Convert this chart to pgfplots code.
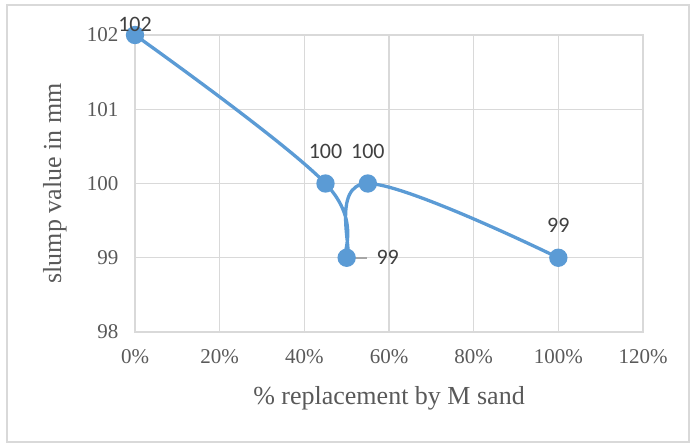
\documentclass[border=0pt]{standalone}
\usepackage{fontspec}
\setmainfont{Liberation Serif}
\newfontfamily\calibri{Carlito}
\usepackage{pgfplots}
\pgfplotsset{compat=1.18}
\definecolor{txt}{HTML}{595959}
\definecolor{dlab}{HTML}{404040}
\definecolor{gridc}{HTML}{D9D9D9}
\definecolor{leader}{HTML}{A6A6A6}
\definecolor{serc}{HTML}{5B9BD5}
\begin{document}
\begin{tikzpicture}[x=1pt,y=1pt]
\path[use as bounding box] (-135,-113) rectangle (559,332);
\draw[gridc, line width=1.2pt] (-128,-110) rectangle (554,327);
\begin{axis}[
  at={(0,0)}, anchor=south west,
  scale only axis, width=508pt, height=297pt,
  xmin=0, xmax=120, ymin=98, ymax=102,
  xtick={0,20,...,120}, ytick={98,99,...,102},
  grid=major, major grid style={gridc, line width=1.2pt},
  axis line style={gridc, line width=1.2pt},
  major tick length=0pt,
  clip=false,
  /pgf/number format/assume math mode=true,
  xticklabel={\pgfmathprintnumber{\tick}\%},
  tick label style={txt, font=\fontsize{21}{21}\selectfont},
  xticklabel style={yshift=-14pt},
  yticklabel style={xshift=-13pt},
  label style={txt, font=\fontsize{26}{26}\selectfont},
  xlabel={\% replacement by M sand},
  ylabel={slump value in mm},
  xlabel style={at={(axis description cs:0.5,-0.222)}, anchor=center},
  ylabel style={at={(axis description cs:-0.1575,0.5)}, anchor=center},
]
\addplot[serc, line width=3.3pt, smooth, tension=0.66, mark=*, mark size=7.5pt,
  mark options={fill=serc, draw=none}]
  coordinates {(0,102) (45,100) (50,99) (55,100) (100,99)};
\addplot[leader, line width=1.5pt] coordinates {(50,99) (54.7,99)};
\addplot[draw=none, nodes near coords,
  every node near coord/.append style={anchor=center, yshift=32pt, dlab, font=\calibri\fontsize{22}{22}\selectfont}]
  coordinates {(45,100) (55,100) (100,99)};
\addplot[draw=none, nodes near coords,
  every node near coord/.append style={anchor=center, yshift=11pt, dlab, font=\calibri\fontsize{22}{22}\selectfont}]
  coordinates {(0,102)};
\addplot[draw=none, nodes near coords,
  every node near coord/.append style={anchor=center, xshift=41pt, dlab, font=\calibri\fontsize{22}{22}\selectfont}]
  coordinates {(50,99)};
\end{axis}
\end{tikzpicture}
\end{document}
